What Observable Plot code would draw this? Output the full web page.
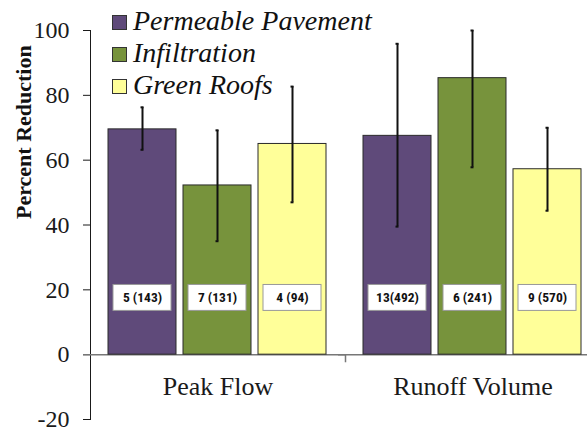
<!DOCTYPE html>
<html>
<head>
<meta charset="utf-8">
<script src="https://cdn.jsdelivr.net/npm/d3@7"></script>
<script src="https://cdn.jsdelivr.net/npm/@observablehq/plot@0.6"></script>
<style>
  html, body { margin: 0; padding: 0; background: #fff; }
  #wrap { position: relative; width: 587px; height: 430px; overflow: hidden; }
  #chart svg { max-width: none !important; }
  #legend { position: absolute; left: 112px; top: 5px; font-family: "Liberation Serif", "DejaVu Serif", serif; font-style: italic; font-size: 28px; color: #111; }
  .row { display: flex; align-items: center; height: 32px; }
  .sw { width: 13px; height: 13px; border: 1px solid #333; margin-right: 6px; margin-top: 2px; }
</style>
</head>
<body>
<div id="wrap"><div id="chart"></div><div id="legend"></div></div>
<script>
const categories = ["Peak Flow", "Runoff Volume"];
const series = ["Permeable Pavement", "Infiltration", "Green Roofs"];
const colors = ["#5f4a7a", "#77933c", "#ffff99"];
const pavementMean = [69.5, 67.5];
const infiltrationMean = [52.2, 85.3];
const greenRoofMean = [65.0, 57.2];
const pavementLow = [63.2, 39.5];
const infiltrationLow = [35.0, 57.8];
const greenRoofLow = [47.0, 44.4];
const pavementHigh = [76.3, 95.9];
const infiltrationHigh = [69.2, 100];
const greenRoofHigh = [82.7, 70.0];
const pavementN = ["5 (143)", "13(492)"];
const infiltrationN = ["7 (131)", "6 (241)"];
const greenRoofN = ["4 (94)", "9 (570)"];
const yTicks = [-20, 0, 20, 40, 60, 80, 100];

const means = [pavementMean, infiltrationMean, greenRoofMean];
const lows = [pavementLow, infiltrationLow, greenRoofLow];
const highs = [pavementHigh, infiltrationHigh, greenRoofHigh];
const ns = [pavementN, infiltrationN, greenRoofN];

const rows = [];
categories.forEach((c, ci) => series.forEach((s, si) => rows.push({
  cat: c, series: s, value: means[si][ci], low: lows[si][ci], high: highs[si][ci], n: ns[si][ci]
})));

const serif = "'Liberation Serif', 'DejaVu Serif', serif";
const narrow = "'Roboto Condensed', 'Liberation Sans', sans-serif";

const chart = Plot.plot({
  width: 600,
  height: 430,
  marginLeft: 90,
  marginRight: 0,
  marginTop: 30,
  marginBottom: 11,
  style: { fontFamily: serif, fontSize: "24px", color: "#1a1a1a", background: "transparent", overflow: "visible", maxWidth: "none" },
  fx: { domain: categories, padding: 0, axis: null },
  x: { domain: series, paddingInner: 0.092, paddingOuter: 0.224, axis: null },
  y: { domain: [-20, 100], ticks: yTicks, tickFormat: d => String(d), tickSize: 7, tickPadding: 14, line: true, label: null, grid: false },
  color: { domain: series, range: colors },
  marks: [
    Plot.ruleY([0], { stroke: "#777", strokeWidth: 1.5, insetLeft: -7 }),
    Plot.ruleX(categories.slice(1), { fx: d => d, x: () => series[0], y1: 0, y2: -2.5, dx: -52, stroke: "#777", strokeWidth: 1.5 }),
    Plot.barY(rows, { fx: "cat", x: "series", y: "value", fill: "series", stroke: "#2a2a2a", strokeWidth: 1 }),
    Plot.barY(rows, { fx: "cat", x: "series", y1: () => 13.5, y2: () => 21.5, fill: "white", stroke: "#999", strokeWidth: 1, insetLeft: 5, insetRight: 5 }),
    Plot.text(rows, { fx: "cat", x: "series", y: () => 17.6, text: "n", fontWeight: "bold", fontSize: 13.5, fontFamily: narrow, fill: "#111" }),
    Plot.ruleX(rows, { fx: "cat", x: "series", y1: "low", y2: "high", stroke: "#111", strokeWidth: 2 }),
    Plot.tickY(rows, { fx: "cat", x: "series", y: "low", stroke: "#111", strokeWidth: 2, insetLeft: 32.5, insetRight: 32.5 }),
    Plot.tickY(rows, { fx: "cat", x: "series", y: "high", stroke: "#111", strokeWidth: 2, insetLeft: 32.5, insetRight: 32.5 }),
    Plot.text(categories, { fx: d => d, text: d => d, y: () => -10, fontSize: 26, fontFamily: serif, fill: "#1a1a1a" }),
    Plot.text(["Percent Reduction"], { fx: () => categories[0], frameAnchor: "left", rotate: -90, dx: -67, dy: -6, fontWeight: "bold", fontSize: 22, fontFamily: serif, fill: "#111" })
  ]
});
document.getElementById("chart").appendChild(chart);

const legend = document.getElementById("legend");
series.forEach((s, i) => {
  const r = document.createElement("div");
  r.className = "row";
  const sw = document.createElement("div");
  sw.className = "sw";
  sw.style.background = colors[i];
  const t = document.createElement("span");
  t.textContent = s;
  r.appendChild(sw); r.appendChild(t);
  legend.appendChild(r);
});
</script>
</body>
</html>
